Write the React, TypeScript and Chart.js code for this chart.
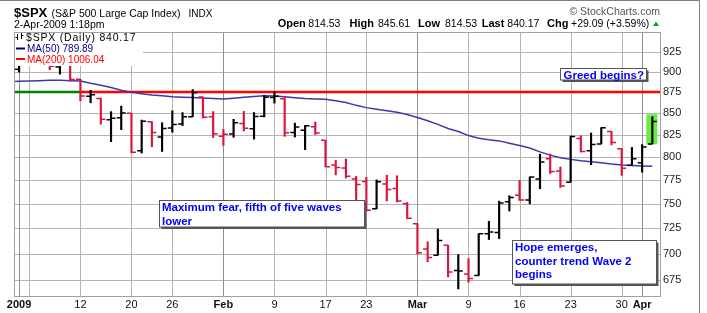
import React, { useEffect, useRef } from 'react';
import { Chart, registerables } from 'chart.js';

Chart.register(...registerables);

// ---------- data ----------
const dates = [
  '2008-12-31',
  '2009-01-02', '2009-01-05', '2009-01-06', '2009-01-07', '2009-01-08', '2009-01-09',
  '2009-01-12', '2009-01-13', '2009-01-14', '2009-01-15', '2009-01-16',
  '2009-01-20', '2009-01-21', '2009-01-22', '2009-01-23',
  '2009-01-26', '2009-01-27', '2009-01-28', '2009-01-29', '2009-01-30',
  '2009-02-02', '2009-02-03', '2009-02-04', '2009-02-05', '2009-02-06',
  '2009-02-09', '2009-02-10', '2009-02-11', '2009-02-12', '2009-02-13',
  '2009-02-17', '2009-02-18', '2009-02-19', '2009-02-20',
  '2009-02-23', '2009-02-24', '2009-02-25', '2009-02-26', '2009-02-27',
  '2009-03-02', '2009-03-03', '2009-03-04', '2009-03-05', '2009-03-06',
  '2009-03-09', '2009-03-10', '2009-03-11', '2009-03-12', '2009-03-13',
  '2009-03-16', '2009-03-17', '2009-03-18', '2009-03-19', '2009-03-20',
  '2009-03-23', '2009-03-24', '2009-03-25', '2009-03-26', '2009-03-27',
  '2009-03-30', '2009-03-31', '2009-04-01', '2009-04-02',
];
const opens = [
  890.59,
  902.99, 929.17, 931.17, 927.45, 905.73, 909.91,
  890.40, 869.79, 867.28, 841.99, 844.45,
  849.64, 806.77, 839.74, 822.16,
  832.50, 837.30, 845.73, 868.89, 845.69,
  823.09, 825.69, 837.77, 831.75, 846.09,
  868.24, 866.87, 827.41, 829.91, 833.95,
  818.61, 791.06, 787.91, 775.87,
  773.25, 744.69, 770.64, 765.76, 749.93,
  729.57, 704.44, 698.60, 708.27, 684.04,
  680.76, 679.28, 719.59, 720.89, 751.97,
  758.84, 753.88, 776.01, 797.92, 784.58,
  772.59, 820.60, 806.81, 814.52, 828.68,
  809.07, 790.88, 793.59, 814.53,
];
const highs = [
  910.32,
  934.73, 936.63, 943.85, 927.45, 910.00, 911.93,
  890.40, 877.02, 867.28, 851.59, 858.13,
  849.64, 841.72, 839.74, 838.61,
  852.53, 850.45, 877.86, 868.89, 851.66,
  830.78, 842.60, 851.85, 850.55, 870.75,
  875.01, 868.05, 838.22, 835.48, 839.43,
  818.61, 796.17, 797.58, 778.69,
  777.85, 775.08, 780.12, 779.42, 751.27,
  729.57, 711.67, 724.12, 708.27, 699.09,
  695.27, 719.60, 731.92, 752.63, 758.29,
  774.53, 778.12, 803.04, 803.24, 788.91,
  823.37, 823.65, 826.78, 832.98, 828.68,
  809.07, 810.48, 813.62, 845.61,
];
const lows = [
  889.67,
  899.35, 919.53, 927.28, 902.37, 896.81, 888.31,
  864.32, 862.02, 836.93, 817.04, 830.66,
  804.47, 804.30, 811.29, 806.07,
  827.69, 835.40, 845.73, 844.15, 821.67,
  812.87, 821.98, 829.18, 819.91, 845.42,
  861.65, 822.99, 822.30, 808.06, 825.21,
  789.17, 780.43, 777.03, 754.25,
  742.37, 744.69, 752.89, 751.75, 734.52,
  699.70, 692.30, 698.60, 677.93, 666.79,
  672.88, 679.28, 713.85, 714.76, 742.46,
  753.37, 749.93, 765.64, 781.82, 766.97,
  772.59, 805.48, 791.37, 814.52, 813.43,
  779.81, 790.88, 783.32, 814.53,
];
const closes = [
  903.25,
  931.80, 927.45, 934.70, 906.65, 909.73, 890.35,
  870.26, 871.79, 842.62, 843.74, 850.12,
  805.22, 840.24, 827.50, 831.95,
  836.57, 845.71, 874.09, 845.14, 825.88,
  825.44, 838.51, 832.23, 845.85, 868.60,
  869.89, 827.16, 833.74, 835.19, 826.84,
  789.17, 788.42, 778.94, 770.05,
  743.33, 773.14, 764.90, 752.83, 735.09,
  700.82, 696.33, 712.87, 682.55, 683.38,
  676.53, 719.60, 721.36, 750.74, 756.55,
  753.89, 778.12, 794.35, 784.04, 768.54,
  822.92, 806.12, 813.88, 832.86, 815.94,
  787.53, 797.87, 811.08, 840.17,
];
const ma50 = [
  887.7,
  888.0, 888.3, 888.8, 889.4, 889.2, 888.8,
  888.3, 885.5, 883.1, 880.3, 877.0,
  874.6, 873.0, 871.5, 870.4,
  869.3, 868.8, 868.3, 867.7, 867.1,
  866.5, 867.5, 868.6, 869.7, 870.5,
  870.1, 869.2, 868.2, 867.2, 866.6,
  866.2, 864.4, 862.4, 859.0,
  856.3, 854.5, 852.7, 850.9, 848.3,
  844.8, 841.0, 836.8, 832.0, 828.6,
  823.9, 821.0, 819.3, 817.9, 815.2,
  812.7, 809.9, 805.6, 802.0, 799.0,
  797.3, 795.8, 794.6, 793.6, 792.2,
  791.1, 790.5, 790.1, 789.89,
];
const ma200Last = 1006.04;

const yTickValues = [675, 700, 725, 750, 775, 800, 825, 850, 875, 900, 925];
const xTickDates = [
  '2009-01-02', '2009-01-05', '2009-01-12', '2009-01-20', '2009-01-26',
  '2009-02-02', '2009-02-09', '2009-02-17', '2009-02-23',
  '2009-03-02', '2009-03-09', '2009-03-16', '2009-03-23', '2009-03-30', '2009-04-01',
];
const xTickLabels = ['2009', '', '12', '20', '26', 'Feb', '9', '17', '23', 'Mar', '9', '16', '23', '30', 'Apr'];
const monthLabels = ['2009', 'Feb', 'Mar', 'Apr'];

const trendLevel = 875;
const trendSplitDate = '2009-01-12';
const highlightDate = '2009-04-02';

// ---------- style ----------
const FONT = "'Liberation Sans', Arial, Helvetica, sans-serif";
const UP = '#000000';
const DOWN = '#dc143c';
const X_MIN = 0.5;
const X_MAX = 63.75;
const Y_MIN = 660.3;
const Y_MAX = 950.5;
const GRID = '#b4b4b4';
const GRID_MONTH = '#909090';

const barColors = closes.map((c, i) => (i > 0 && c < closes[i - 1] ? DOWN : UP));
const splitIdx = dates.indexOf(trendSplitDate);

const notes = [
  { x: 159.5, y: 200.5, w: 205, h: 26.5, lines: ['Maximum fear, fifth of five waves', 'lower'], tx: 162, base: [210.5, 224.5] },
  { x: 560.5, y: 68.5, w: 86, h: 11.5, lines: ['Greed begins?'], tx: 563.5, base: [78.5] },
  { x: 512.5, y: 240.5, w: 144, h: 43.5, lines: ['Hope emerges,', 'counter trend Wave 2', 'begins'], tx: 515, base: [250.5, 264.5, 278] },
];

const overlayPlugin = {
  id: 'overlay',
  beforeDatasetsDraw(chart: any) {
    const { ctx, scales, chartArea: ca } = chart;
    const xs = scales.x, ys = scales.y;
    ctx.save();
    ctx.lineWidth = 1;
    ys.ticks.forEach((t: any) => {
      const py = Math.round(ys.getPixelForValue(t.value)) + 0.5;
      ctx.strokeStyle = GRID;
      ctx.beginPath();
      ctx.moveTo(ca.left, py);
      ctx.lineTo(ca.right, py);
      ctx.stroke();
    });
    xs.ticks.forEach((t: any, k: number) => {
      const px = Math.round(xs.getPixelForValue(t.value)) + 0.5;
      ctx.strokeStyle = monthLabels.includes(xTickLabels[k]) ? GRID_MONTH : GRID;
      ctx.beginPath();
      ctx.moveTo(px, ca.top);
      ctx.lineTo(px, ca.bottom);
      ctx.stroke();
    });
    const i = dates.indexOf(highlightDate);
    const px = xs.getPixelForValue(i);
    const top = ys.getPixelForValue(highs[i]) - 2.5;
    const bot = ys.getPixelForValue(lows[i]) + 0.5;
    ctx.fillStyle = '#66ee44';
    ctx.fillRect(px - 6, top, 11, bot - top);
    ctx.restore();
  },
  afterDatasetsDraw(chart: any) {
    const { ctx, chartArea: ca, scales } = chart;
    const xs = scales.x, ys = scales.y;
    ctx.save();
    ctx.beginPath();
    ctx.rect(ca.left, ca.top, ca.right - ca.left, ca.bottom - ca.top);
    ctx.clip();
    ctx.lineWidth = 1.5;
    for (let i = 0; i < dates.length; i++) {
      const px = xs.getPixelForValue(i);
      const yo = ys.getPixelForValue(opens[i]);
      const yc = ys.getPixelForValue(closes[i]);
      ctx.strokeStyle = barColors[i];
      ctx.beginPath();
      ctx.moveTo(px - 4.5, yo);
      ctx.lineTo(px, yo);
      ctx.moveTo(px, yc);
      ctx.lineTo(px + 4.5, yc);
      ctx.stroke();
    }
    ctx.restore();
  },
  afterDraw(chart: any) {
    const { ctx, chartArea: ca } = chart;
    ctx.save();
    ctx.fillStyle = '#ffffff';
    ctx.fillRect(ca.left + 1, ca.top + 1, 128, 66 - ca.top - 1);
    ctx.strokeStyle = '#a0a0a0';
    ctx.lineWidth = 1;
    ctx.strokeRect(Math.round(ca.left) + 0.5, Math.round(ca.top) + 0.5, Math.round(ca.right - ca.left), Math.round(ca.bottom - ca.top));
    ctx.strokeStyle = '#808080';
    ctx.beginPath();
    ctx.moveTo(0, 0.5);
    ctx.lineTo(700, 0.5);
    ctx.moveTo(699.5, 0);
    ctx.lineTo(699.5, 313);
    ctx.stroke();

    // legend
    ctx.fillStyle = '#000';
    ctx.strokeStyle = '#000';
    ctx.lineWidth = 1;
    ctx.beginPath();
    ctx.moveTo(17.5, 34); ctx.lineTo(17.5, 40);
    ctx.moveTo(15.5, 37.5); ctx.lineTo(17.5, 37.5);
    ctx.moveTo(21.5, 33); ctx.lineTo(21.5, 39);
    ctx.moveTo(21.5, 35.5); ctx.lineTo(23.5, 35.5);
    ctx.stroke();
    ctx.font = `10.5px ${FONT}`;
    (ctx as any).letterSpacing = '0.8px';
    ctx.textBaseline = 'alphabetic';
    ctx.textAlign = 'left';
    ctx.fillText(`$SPX (Daily) ${closes[closes.length - 1].toFixed(2)}`, 26, 40.5);
    (ctx as any).letterSpacing = '0px';
    ctx.font = `10px ${FONT}`;
    ctx.fillStyle = '#000080';
    ctx.fillRect(16, 47.5, 9, 2);
    ctx.fillText(`MA(50) ${ma50[ma50.length - 1].toFixed(2)}`, 27, 52);
    ctx.fillStyle = '#ff0000';
    ctx.fillRect(16, 58, 9, 2);
    ctx.fillText(`MA(200) ${ma200Last.toFixed(2)}`, 27, 62.5);

    // annotations
    for (const n of notes) {
      ctx.fillStyle = '#555';
      ctx.fillRect(n.x + 2, n.y + 2, n.w, n.h);
      ctx.fillStyle = '#fff';
      ctx.fillRect(n.x, n.y, n.w, n.h);
      ctx.strokeStyle = '#555';
      ctx.lineWidth = 1;
      ctx.strokeRect(n.x, n.y, n.w, n.h);
      ctx.fillStyle = '#0000ff';
      ctx.font = `bold 11.5px ${FONT}`;
      n.lines.forEach((t, k) => ctx.fillText(t, n.tx, n.base[k]));
    }

    // header
    ctx.fillStyle = '#000';
    ctx.font = `bold 13px ${FONT}`;
    ctx.fillText('$SPX', 14, 17);
    ctx.font = `10.5px ${FONT}`;
    ctx.fillText('(S&P 500 Large Cap Index)', 51.5, 17);
    ctx.font = `10px ${FONT}`;
    ctx.fillText('INDX', 188.5, 17);
    ctx.font = `10.5px ${FONT}`;
    ctx.fillText('2-Apr-2009 1:18pm', 14, 28);

    const n = closes.length - 1;
    const chg = closes[n] - closes[n - 1];
    const pct = (chg / closes[n - 1]) * 100;
    const items: [string, number, boolean][] = [
      ['Open', 277.7, true], [opens[n].toFixed(2), 308.3, false],
      ['High', 349.5, true], [highs[n].toFixed(2), 378, false],
      ['Low', 418, true], [lows[n].toFixed(2), 445, false],
      ['Last', 481.7, true], [closes[n].toFixed(2), 507.3, false],
      ['Chg', 547, true], [`${chg >= 0 ? '+' : ''}${chg.toFixed(2)} (${pct >= 0 ? '+' : ''}${pct.toFixed(2)}%)`, 571, false],
    ];
    for (const [t, x, b] of items) {
      ctx.font = b ? `bold 11px ${FONT}` : `10.5px ${FONT}`;
      ctx.fillText(t, x, 27);
    }
    ctx.fillStyle = '#1a9a1a';
    ctx.beginPath();
    ctx.moveTo(653, 26); ctx.lineTo(659, 26); ctx.lineTo(656, 21.5); ctx.closePath();
    ctx.fill();

    ctx.fillStyle = '#555';
    ctx.font = `10.5px ${FONT}`;
    ctx.textAlign = 'right';
    ctx.fillText('\u00A9 StockCharts.com', 660, 15);
    ctx.restore();
  },
};

export default function App() {
  const ref = useRef<HTMLCanvasElement>(null);
  useEffect(() => {
    document.body.style.margin = '0';
    Chart.defaults.font.family = FONT;
    const chart = new Chart(ref.current as HTMLCanvasElement, {
      type: 'bar',
      data: {
        datasets: [
          {
            type: 'bar',
            label: '$SPX',
            data: dates.map((_, i) => ({ x: i, y: [lows[i], highs[i]] })) as any,
            backgroundColor: barColors,
            borderWidth: 0,
            barThickness: 1.5,
            grouped: false,
            order: 0,
          } as any,
          {
            type: 'line',
            label: 'MA(50)',
            data: ma50.map((v, i) => ({ x: i, y: v })),
            borderColor: '#3a3aa8',
            borderWidth: 1.5,
            pointRadius: 0,
            tension: 0,
            order: 1,
          },
          {
            type: 'line',
            label: 'trend-green',
            data: [{ x: X_MIN, y: trendLevel }, { x: splitIdx, y: trendLevel }],
            borderColor: '#008000',
            borderWidth: 2.5,
            pointRadius: 0,
            order: 2,
          },
          {
            type: 'line',
            label: 'trend-red',
            data: [{ x: splitIdx, y: trendLevel }, { x: X_MAX, y: trendLevel }],
            borderColor: '#ff0000',
            borderWidth: 2.5,
            pointRadius: 0,
            order: 2,
          },
        ],
      },
      options: {
        animation: false,
        responsive: true,
        maintainAspectRatio: false,
        events: [],
        layout: { padding: { left: 14, top: 32, right: 0, bottom: 0 } },
        plugins: { legend: { display: false }, tooltip: { enabled: false } },
        scales: {
          x: {
            type: 'linear',
            min: X_MIN,
            max: X_MAX,
            offset: false,
            afterBuildTicks: (s: any) => {
              s.ticks = xTickDates.map((d) => ({ value: dates.indexOf(d) }));
            },
            afterFit: (s: any) => { s.height = 17; },
            grid: { display: false, offset: false, drawTicks: false },
            border: { display: false },
            ticks: {
              autoSkip: false,
              maxRotation: 0,
              padding: 2,
              color: '#111',
              callback: (_v: any, i: number) => xTickLabels[i],
              font: (c: any) => ({
                family: FONT,
                size: 11,
                weight: monthLabels.includes(xTickLabels[c.index]) ? 'bold' : 'normal',
              }),
            },
          },
          y: {
            type: 'logarithmic',
            position: 'right',
            min: Y_MIN,
            max: Y_MAX,
            afterBuildTicks: (s: any) => {
              s.ticks = yTickValues.map((v) => ({ value: v }));
            },
            afterFit: (s: any) => { s.width = 47; },
            grid: { display: false, drawTicks: false },
            border: { display: false },
            ticks: {
              padding: 3,
              color: '#222',
              font: { family: FONT, size: 11 },
              callback: (v: any) => String(v),
            },
          },
        },
      } as any,
      plugins: [overlayPlugin],
    });
    return () => chart.destroy();
  }, []);
  return (
    <div style={{ position: 'relative', width: 707, height: 313, background: '#fff' }}>
      <canvas ref={ref} />
    </div>
  );
}
